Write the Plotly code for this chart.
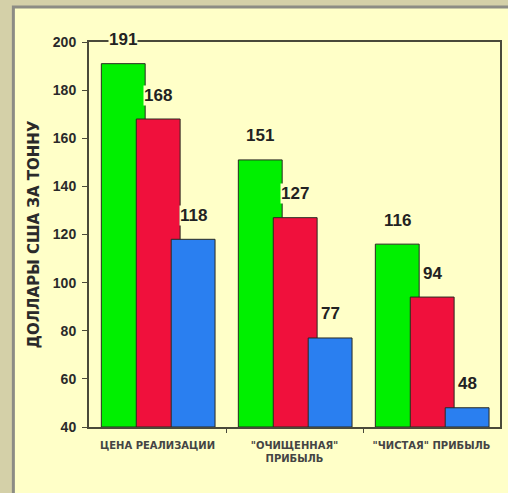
import plotly.graph_objects as go

categories = ["ЦЕНА РЕАЛИЗАЦИИ", "\"ОЧИЩЕННАЯ\"<br>ПРИБЫЛЬ", "\"ЧИСТАЯ\" ПРИБЫЛЬ"]
series_green = [191, 151, 116]
series_red = [168, 127, 94]
series_blue = [118, 77, 48]
y_ticks = [40, 60, 80, 100, 120, 140, 160, 180, 200]
y_title = "ДОЛЛАРЫ США ЗА ТОННУ"

series = [
    (series_green, "#00f000", -0.41),
    (series_red, "#f0103c", -0.155),
    (series_blue, "#2a7ff0", 0.10),
]
BAR_W = 0.32
PANEL = "#ffffc8"

fig = go.Figure()
idx = list(range(len(categories)))
annotations = []
for vals, color, off in series:
    fig.add_trace(go.Bar(
        x=idx, y=[v - 40 for v in vals], base=40,
        offset=off, width=BAR_W,
        marker=dict(color=color, line=dict(color="#2a2a20", width=1)),
        hoverinfo="skip", showlegend=False,
    ))
    for i, v in zip(idx, vals):
        annotations.append(dict(
            x=i + off + BAR_W / 2, y=v, xref="x", yref="y",
            text=str(v), showarrow=False, yshift=24, yanchor="middle",
            bgcolor=PANEL, borderpad=0,
            font=dict(family="Liberation Sans, Arial", size=17, color="#222", weight="bold"),
        ))

fig.update_layout(
    width=508, height=493,
    margin=dict(l=89, r=6, t=42, b=66),
    paper_bgcolor="#d4d0a8",
    plot_bgcolor=PANEL,
    barmode="overlay",
    annotations=annotations,
    shapes=[dict(
        type="rect", xref="paper", yref="paper",
        x0=(13 - 89) / 413, x1=1.05, y0=-0.25, y1=(427 - 7) / 385,
        fillcolor=PANEL, line=dict(color="#8c8c84", width=3), layer="below",
    )],
    xaxis=dict(
        range=[-0.5, 2.5], tickvals=idx, ticktext=categories,
        ticks="", showgrid=False, zeroline=False,
        showline=True, linecolor="#4a4a3a", linewidth=2, mirror=True,
        tickfont=dict(family="DejaVu Sans", size=10, color="#444", weight="bold"),
        ticklabelstandoff=8,
        minor=dict(tickvals=[0.5, 1.5], ticks="outside", ticklen=4, tickcolor="#4a4a3a", showgrid=False),
    ),
    yaxis=dict(
        range=[40, 200], tickvals=y_ticks, ticks="outside", ticklen=5,
        tickcolor="#4a4a3a", showgrid=False, zeroline=False,
        showline=True, linecolor="#4a4a3a", linewidth=2, mirror=True,
        tickfont=dict(family="Liberation Sans, Arial", size=14, color="#2a2a2a", weight="bold"),
        ticklabelstandoff=3,
        title=dict(text=y_title, standoff=10,
                   font=dict(family="DejaVu Sans", size=15, color="#2a2a2a", weight="bold")),
    ),
)

fig.write_html("out.html")
